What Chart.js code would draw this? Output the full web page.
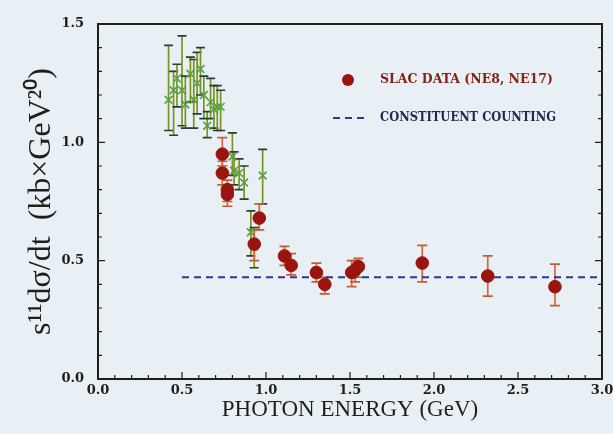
<!DOCTYPE html>
<html>
<head>
<meta charset="utf-8">
<script src="https://cdn.jsdelivr.net/npm/chart.js@4.4.1/dist/chart.umd.min.js"></script>
<style>
  html, body { margin: 0; padding: 0; background: #e8f0f5; }
  #wrap { width: 613px; height: 434px; }
</style>
</head>
<body>
<div id="wrap"><canvas id="chart" width="613" height="434"></canvas></div>
<script>
// older measurements (green crosses): energy, value, error low/high
const greenX  = [0.42, 0.45, 0.47, 0.50, 0.52, 0.55, 0.57, 0.59, 0.61, 0.63, 0.65, 0.67, 0.69, 0.71, 0.73, 0.80, 0.81, 0.84, 0.87, 0.91, 0.93, 0.98];
const greenY  = [1.18, 1.22, 1.27, 1.22, 1.16, 1.29, 1.18, 1.25, 1.31, 1.20, 1.07, 1.17, 1.14, 1.15, 1.15, 0.94, 0.88, 0.87, 0.83, 0.62, 0.56, 0.86];
const greenLo = [1.05, 1.03, 1.15, 1.07, 1.06, 1.17, 1.06, 1.12, 1.20, 1.10, 1.02, 1.10, 1.06, 1.05, 1.05, 0.86, 0.82, 0.80, 0.76, 0.52, 0.47, 0.74];
const greenHi = [1.41, 1.30, 1.33, 1.45, 1.28, 1.36, 1.35, 1.38, 1.40, 1.28, 1.13, 1.27, 1.24, 1.24, 1.22, 1.04, 0.96, 0.93, 0.90, 0.71, 0.64, 0.97];

// SLAC data (NE8, NE17)
const slacX  = [0.74, 0.74, 0.77, 0.77, 0.93, 0.96, 1.11, 1.15, 1.30, 1.35, 1.51, 1.53, 1.55, 1.93, 2.32, 2.72];
const slacY  = [0.95, 0.87, 0.80, 0.78, 0.57, 0.68, 0.52, 0.48, 0.45, 0.40, 0.45, 0.46, 0.475, 0.49, 0.435, 0.39];
const slacLo = [0.90, 0.82, 0.75, 0.73, 0.50, 0.63, 0.48, 0.44, 0.41, 0.36, 0.39, 0.41, 0.43, 0.41, 0.35, 0.31];
const slacHi = [1.02, 0.92, 0.84, 0.82, 0.63, 0.74, 0.56, 0.53, 0.49, 0.43, 0.50, 0.50, 0.51, 0.565, 0.52, 0.485];

// constituent counting prediction
const countX = [0.5, 3.0];
const countY = [0.43, 0.43];

const xTicks = [0.0, 0.5, 1.0, 1.5, 2.0, 2.5, 3.0];
const yTicks = [0.0, 0.5, 1.0, 1.5];

const zip = (xs, ys) => xs.map((x, i) => ({ x: x, y: ys[i] }));

const SERIF = "'DejaVu Serif', 'Liberation Serif', serif";
const TIMES = "'Liberation Serif', serif";

// error bars, frame with inward ticks, and the inset legend
const decorations = {
    id: 'decorations',
    beforeDatasetsDraw(chart) {
        const ctx = chart.ctx;
        const xs = chart.scales.x;
        const ys = chart.scales.y;

        const bars = (xv, lo, hi, stem, cap, w) => {
            ctx.lineWidth = 1.7;
            xv.forEach((v, i) => {
                const px = xs.getPixelForValue(v);
                const pTop = ys.getPixelForValue(hi[i]);
                const pBot = ys.getPixelForValue(lo[i]);
                ctx.strokeStyle = stem;
                ctx.beginPath();
                ctx.moveTo(px, pTop);
                ctx.lineTo(px, pBot);
                ctx.stroke();
                ctx.strokeStyle = cap;
                ctx.beginPath();
                ctx.moveTo(px - w, pTop);
                ctx.lineTo(px + w, pTop);
                ctx.moveTo(px - w, pBot);
                ctx.lineTo(px + w, pBot);
                ctx.stroke();
            });
        };

        ctx.save();
        bars(greenX, greenLo, greenHi, '#7a9420', '#2d3a35', 4.5);
        bars(slacX, slacLo, slacHi, '#d8683a', '#c85a30', 5);
        ctx.restore();
    },
    afterDraw(chart) {
        const ctx = chart.ctx;
        const a = chart.chartArea;
        const xs = chart.scales.x;
        const ys = chart.scales.y;

        ctx.save();
        ctx.strokeStyle = '#1e1e1a';
        ctx.lineWidth = 2;
        ctx.strokeRect(a.left, a.top, a.right - a.left, a.bottom - a.top);

        ctx.lineWidth = 1.2;
        ctx.beginPath();
        for (let k = 1; k < 30; k++) {
            const px = xs.getPixelForValue(k / 10);
            const len = k % 5 === 0 ? 7 : 4;
            ctx.moveTo(px, a.bottom);
            ctx.lineTo(px, a.bottom - len);
        }
        for (let k = 1; k < 15; k++) {
            const py = ys.getPixelForValue(k / 10);
            const len = k % 5 === 0 ? 7 : 4;
            ctx.moveTo(a.left, py);
            ctx.lineTo(a.left + len, py);
            ctx.moveTo(a.right, py);
            ctx.lineTo(a.right - len, py);
        }
        ctx.stroke();

        // legend
        ctx.fillStyle = '#9a1410';
        ctx.beginPath();
        ctx.arc(348, 80, 6, 0, Math.PI * 2);
        ctx.fill();
        ctx.font = 'bold 12.5px ' + SERIF;
        ctx.textBaseline = 'middle';
        ctx.fillStyle = '#8a2014';
        ctx.fillText(chart.data.datasets[0].label, 380, 80, 173);

        ctx.strokeStyle = '#34348a';
        ctx.lineWidth = 2;
        ctx.setLineDash([7, 5]);
        ctx.beginPath();
        ctx.moveTo(333, 118);
        ctx.lineTo(367, 118);
        ctx.stroke();
        ctx.setLineDash([]);
        ctx.fillStyle = '#26264e';
        ctx.fillText(chart.data.datasets[1].label, 380, 118, 176);
        ctx.restore();
    }
};

new Chart(document.getElementById('chart'), {
    type: 'scatter',
    data: {
        datasets: [
            {
                label: 'SLAC DATA (NE8, NE17)',
                data: zip(slacX, slacY),
                pointStyle: 'circle',
                pointRadius: 6.3,
                backgroundColor: '#9a1410',
                borderColor: '#9a1410',
                borderWidth: 1,
                order: 0
            },
            {
                label: 'CONSTITUENT COUNTING',
                type: 'line',
                data: zip(countX, countY),
                borderColor: '#34348a',
                borderWidth: 2,
                borderDash: [7, 5],
                pointRadius: 0,
                fill: false,
                order: 1
            },
            {
                label: 'earlier data',
                data: zip(greenX, greenY),
                pointStyle: 'crossRot',
                pointRadius: 5.5,
                borderColor: '#58a040',
                borderWidth: 1.6,
                order: 2
            }
        ]
    },
    options: {
        responsive: false,
        animation: false,
        layout: { padding: { top: 24, right: 11, left: 22, bottom: 10 } },
        plugins: {
            legend: { display: false },
            tooltip: { enabled: false }
        },
        scales: {
            x: {
                type: 'linear',
                min: 0,
                max: 3,
                afterFit: s => { s.height = 45; s.paddingRight = 0; s.paddingLeft = 0; },
                afterBuildTicks: s => { s.ticks = xTicks.map(v => ({ value: v })); },
                grid: { display: false, drawTicks: false },
                border: { display: false },
                ticks: {
                    color: '#1e1e1a',
                    font: { family: SERIF, size: 13, weight: 'bold' },
                    padding: 4,
                    callback: v => v.toFixed(1)
                },
                title: {
                    display: true,
                    text: 'PHOTON ENERGY (GeV)',
                    color: '#1e1e1a',
                    font: { family: TIMES, size: 23 },
                    padding: { top: 0, bottom: 0 }
                }
            },
            y: {
                type: 'linear',
                min: 0,
                max: 1.5,
                afterFit: s => { s.width = 76; },
                afterBuildTicks: s => { s.ticks = yTicks.map(v => ({ value: v })); },
                grid: { display: false, drawTicks: false },
                border: { display: false },
                ticks: {
                    color: '#1e1e1a',
                    font: { family: SERIF, size: 13, weight: 'bold' },
                    padding: 14,
                    callback: v => v.toFixed(1)
                },
                title: {
                    display: true,
                    text: 's¹¹dσ/dt  (kb×GeV²⁰)',
                    color: '#1e1e1a',
                    font: { family: TIMES, size: 32 },
                    padding: { top: 0, bottom: 0 }
                }
            }
        }
    },
    plugins: [decorations]
});
</script>
</body>
</html>
